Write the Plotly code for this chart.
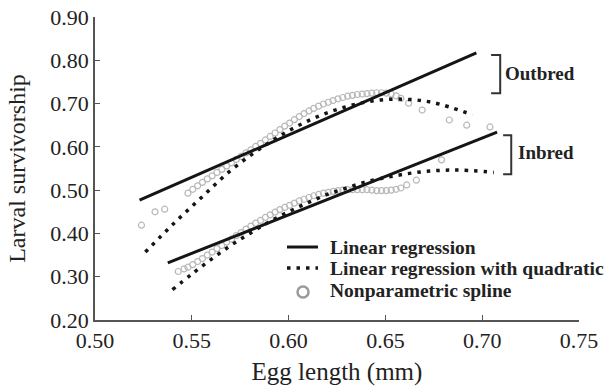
import plotly.graph_objects as go

# ---- data ----
out_lin_x = [0.523, 0.697]
out_lin_y = [0.477, 0.817]
in_lin_x = [0.5376, 0.7077]
in_lin_y = [0.332, 0.634]

out_quad_x = [0.526, 0.540, 0.555, 0.570, 0.585, 0.600, 0.615, 0.630, 0.645, 0.660, 0.675, 0.695]
out_quad_y = [0.357, 0.420, 0.483, 0.545, 0.595, 0.637, 0.670, 0.693, 0.707, 0.710, 0.702, 0.674]

in_quad_x = [0.540, 0.550, 0.560, 0.570, 0.580, 0.590, 0.600, 0.610, 0.620, 0.630, 0.640, 0.650, 0.660, 0.670, 0.680, 0.690, 0.706]
in_quad_y = [0.270, 0.306, 0.340, 0.372, 0.400, 0.427, 0.450, 0.471, 0.490, 0.505, 0.519, 0.529, 0.537, 0.543, 0.546, 0.546, 0.541]

out_spl_x = [0.524, 0.531, 0.536, 0.548, 0.5505, 0.553, 0.5555, 0.558, 0.5605, 0.563, 0.5655, 0.568, 0.5705,
             0.573, 0.5755, 0.578, 0.5805, 0.583, 0.5855, 0.588, 0.5905, 0.593, 0.5955, 0.598, 0.6005, 0.603,
             0.6055, 0.608, 0.6105, 0.613, 0.6155, 0.618, 0.6205, 0.623, 0.6255, 0.628, 0.6305, 0.633, 0.6355,
             0.638, 0.6405, 0.643, 0.6455, 0.648, 0.6505, 0.653, 0.6555, 0.658, 0.662, 0.669, 0.683, 0.692, 0.704]
out_spl_y = [0.419, 0.450, 0.456, 0.493, 0.502, 0.510, 0.518, 0.526, 0.533, 0.541, 0.548, 0.556, 0.563,
             0.571, 0.578, 0.586, 0.593, 0.601, 0.608, 0.616, 0.624, 0.632, 0.640, 0.648, 0.655, 0.663,
             0.670, 0.677, 0.683, 0.689, 0.694, 0.699, 0.703, 0.707, 0.711, 0.714, 0.717, 0.719, 0.721,
             0.722, 0.723, 0.724, 0.725, 0.725, 0.724, 0.722, 0.718, 0.712, 0.701, 0.685, 0.662, 0.650, 0.646]

in_spl_x = [0.543, 0.546, 0.548, 0.5505, 0.553, 0.5555, 0.558, 0.5605, 0.563, 0.5655, 0.568, 0.5705, 0.573,
            0.5755, 0.578, 0.5805, 0.583, 0.5855, 0.588, 0.5905, 0.593, 0.5955, 0.598, 0.6005, 0.603, 0.6055,
            0.608, 0.6105, 0.613, 0.6155, 0.618, 0.6205, 0.623, 0.6255, 0.628, 0.6305, 0.633, 0.6355, 0.638,
            0.6405, 0.643, 0.6455, 0.648, 0.6505, 0.653, 0.6555, 0.658, 0.661, 0.666, 0.679]
in_spl_y = [0.312, 0.318, 0.322, 0.328, 0.335, 0.342, 0.350, 0.357, 0.365, 0.372, 0.380, 0.387, 0.395,
            0.402, 0.410, 0.417, 0.424, 0.430, 0.437, 0.443, 0.449, 0.455, 0.460, 0.465, 0.470, 0.475,
            0.479, 0.483, 0.487, 0.490, 0.493, 0.495, 0.497, 0.499, 0.500, 0.501, 0.501, 0.501, 0.501,
            0.501, 0.500, 0.499, 0.499, 0.499, 0.500, 0.502, 0.505, 0.512, 0.523, 0.570]

x_ticks = [0.50, 0.55, 0.60, 0.65, 0.70, 0.75]
y_ticks = [0.20, 0.30, 0.40, 0.50, 0.60, 0.70, 0.80, 0.90]
legend_names = ["Linear regression", "Linear regression with quadratic", "Nonparametric spline"]

SERIF = "Liberation Serif, Times New Roman, serif"
LINE_C = "#151515"
SPL_C = "#b8b8b8"
DOT = "3.5px,6px"

fig = go.Figure()
for xs, ys in [(out_spl_x, out_spl_y), (in_spl_x, in_spl_y)]:
    fig.add_trace(go.Scatter(x=xs, y=ys, mode="markers", name=legend_names[2], showlegend=False,
                             marker=dict(symbol="circle-open", size=6, color=SPL_C, line=dict(width=1.2))))
for xs, ys in [(out_lin_x, out_lin_y), (in_lin_x, in_lin_y)]:
    fig.add_trace(go.Scatter(x=xs, y=ys, mode="lines", name=legend_names[0], showlegend=False,
                             line=dict(color=LINE_C, width=3)))
for xs, ys in [(out_quad_x, out_quad_y), (in_quad_x, in_quad_y)]:
    fig.add_trace(go.Scatter(x=xs, y=ys, mode="lines", name=legend_names[1], showlegend=False,
                             line=dict(color=LINE_C, width=3.5, dash=DOT, shape="spline")))

# ---- legend (drawn as keys + text) ----
leg_x0, leg_x1, leg_tx = 0.3967, 0.4607, 0.4814
leg_rows = [0.2409, 0.1716, 0.0990]
fig.add_shape(type="line", xref="paper", yref="paper", x0=leg_x0, x1=leg_x1, y0=leg_rows[0], y1=leg_rows[0],
              line=dict(color=LINE_C, width=3))
fig.add_shape(type="line", xref="paper", yref="paper", x0=leg_x0, x1=leg_x1, y0=leg_rows[1], y1=leg_rows[1],
              line=dict(color=LINE_C, width=3.5, dash=DOT))
cx, cy, r = 0.4298, 0.0924, 5.5
fig.add_shape(type="circle", xref="paper", yref="paper", xsizemode="pixel", ysizemode="pixel",
              xanchor=cx, yanchor=cy, x0=-r, x1=r, y0=-r, y1=r,
              line=dict(color="#9a9a9a", width=2.5))
for name, yy in zip(legend_names, leg_rows):
    fig.add_annotation(x=leg_tx, y=yy, xref="paper", yref="paper", text=f"<b>{name}</b>", showarrow=False,
                       xanchor="left", yanchor="middle", font=dict(size=19.5, color="#222", family=SERIF))

# ---- brackets ----
def bracket(x_left, x_right, y_bot, y_top):
    fig.add_shape(type="path", xref="x", yref="y",
                  path=f"M {x_left},{y_top} L {x_right},{y_top} L {x_right},{y_bot} L {x_left},{y_bot}",
                  line=dict(color="#333", width=2))

bracket(0.7046, 0.7093, 0.724, 0.812)
bracket(0.7108, 0.7150, 0.537, 0.627)
fig.add_annotation(x=0.7108, y=0.7706, xref="x", yref="y", text="<b>Outbred</b>", showarrow=False,
                   xanchor="left", yanchor="middle", font=dict(size=19, color="#222", family=SERIF))
fig.add_annotation(x=0.7175, y=0.586, xref="x", yref="y", text="<b>Inbred</b>", showarrow=False,
                   xanchor="left", yanchor="middle", font=dict(size=19, color="#222", family=SERIF))

axis_common = dict(showline=True, linecolor="#555", linewidth=1.5, ticks="inside", ticklen=5,
                   tickcolor="#555", tickwidth=1.2, showgrid=False, zeroline=False, automargin=False,
                   tickfont=dict(family=SERIF, size=22, color="#222"))
fig.update_xaxes(range=[0.5, 0.75], tickvals=x_ticks, ticktext=[f"{v:.2f}" for v in x_ticks],
                 title=dict(text="Egg length (mm)", font=dict(size=25, color="#222", family=SERIF), standoff=10),
                 **axis_common)
fig.update_yaxes(range=[0.2, 0.9], tickvals=y_ticks, ticktext=[f"{v:.2f}" for v in y_ticks],
                 title=dict(text="Larval survivorship", font=dict(size=24, color="#222", family=SERIF), standoff=18),
                 **axis_common)

fig.update_layout(
    width=608, height=389,
    margin=dict(l=95, r=29, t=17, b=69),
    plot_bgcolor="white", paper_bgcolor="white",
    font=dict(family=SERIF, color="#222"),
    showlegend=False,
)

fig.write_html("out.html", config={"displayModeBar": False},
               post_script="document.body.style.margin='0';document.body.style.overflow='hidden';")
